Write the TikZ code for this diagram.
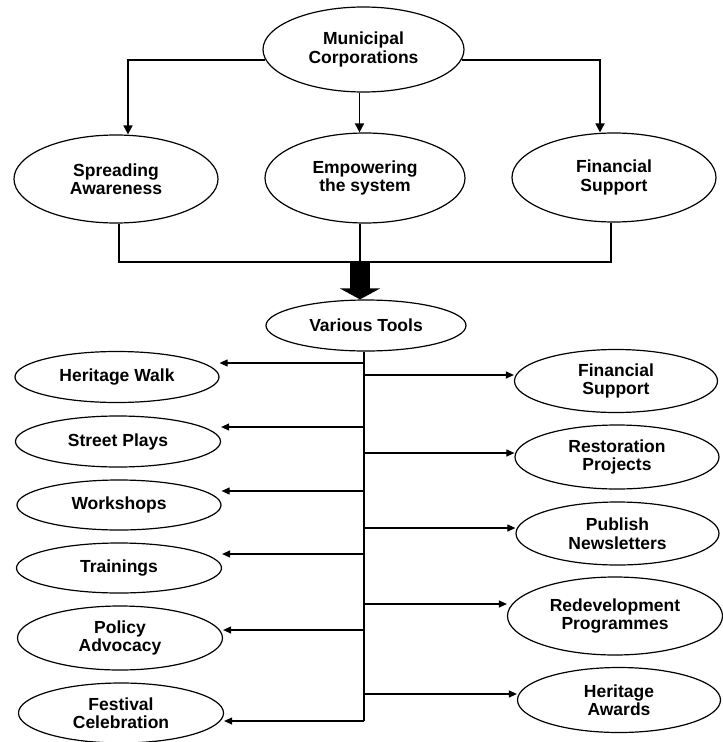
\documentclass[tikz,border=0pt]{standalone}
\usepackage{fontspec}
\setmainfont{Liberation Sans}
\usetikzlibrary{shapes.geometric,arrows.meta,calc}
\begin{document}
\begin{tikzpicture}[x=1bp,y=-1bp,
  oval/.style={draw, ellipse, line width=1.2bp, inner sep=0pt, align=center,
    font=\bfseries\fontsize{17.5bp}{18.5bp}\selectfont},
  topline/.style={line width=1.7bp},
  toparr/.style={line width=1.7bp, -{Triangle[length=9bp,width=9bp]}},
  lowarr/.style={line width=1.1bp, -{Triangle[length=8bp,width=7bp]}},
  trunk/.style={line width=1.4bp}
]
\useasboundingbox (0,0) rectangle (723,742);

% top level
\node[oval, minimum width=201bp, minimum height=85bp] (mc) at (363.5,49.5) {Municipal\\Corporations};
\node[oval, minimum width=204bp, minimum height=88bp] (sa) at (116,179) {Spreading\\Awareness};
\node[oval, minimum width=200bp, minimum height=90bp] (es) at (365,178) {Empowering\\the system};
\node[oval, minimum width=204bp, minimum height=89bp] (fs1) at (614,177.5) {Financial\\Support};

\draw[toparr] (mc.186) -| ([xshift=12bp]sa.north);
\draw[toparr] (mc.354) -| ([xshift=-14bp]fs1.north);
\draw[toparr] ([xshift=-4bp]mc.south) -- ([xshift=-4bp]mc.south |- es.north);

\coordinate (jn) at (360,262);
\draw[topline] ([xshift=3bp]sa.south) |- (jn) -| ([xshift=-3bp]fs1.south);
\draw[topline] (es.south -| jn) -- (jn);

% various tools
\node[oval, minimum width=200bp, minimum height=51bp] (vt) at (366,325.5) {Various Tools};
\draw[line width=20bp, -{Triangle[width=40bp,length=11bp]}] (jn) -- (jn |- vt.north);

% left column
\node[oval, minimum width=204bp, minimum height=51bp] (hw) at (117,377) {Heritage Walk};
\node[oval, minimum width=205bp, minimum height=51bp] (sp) at (118,441.5) {Street Plays};
\node[oval, minimum width=204bp, minimum height=50bp] (ws) at (119,505) {Workshops};
\node[oval, minimum width=205bp, minimum height=50bp] (tr) at (119,568) {Trainings};
\node[oval, minimum width=205bp, minimum height=64bp] (pa) at (120,638) {Policy\\Advocacy};
\node[oval, minimum width=205bp, minimum height=60bp] (fc) at (121,713) {Festival\\Celebration};

% right column
\node[oval, minimum width=203bp, minimum height=63bp] (fs2) at (616,381) {Financial\\Support};
\node[oval, minimum width=204bp, minimum height=64bp] (rp) at (617,457) {Restoration\\Projects};
\node[oval, minimum width=203bp, minimum height=63bp] (pn) at (617.5,533.5) {Publish\\Newsletters};
\node[oval, minimum width=215bp, minimum height=78bp] (rd) at (615,616) {Redevelopment\\Programmes};
\node[oval, minimum width=203bp, minimum height=65bp] (ha) at (619,700) {Heritage\\Awards};

% trunk
\coordinate (tk) at ([xshift=-2bp]vt.south);
\coordinate (l1) at ([yshift=14bp]hw.east);
\coordinate (l2) at ([yshift=14.5bp]sp.east);
\coordinate (l3) at ([yshift=14bp]ws.east);
\coordinate (l4) at ([yshift=14bp]tr.east);
\coordinate (l5) at ([yshift=8bp]pa.east);
\coordinate (l6) at ([yshift=-8bp]fc.east);
\coordinate (r1) at ([yshift=6bp]fs2.west);
\coordinate (r2) at ([yshift=4bp]rp.west);
\coordinate (r3) at ([yshift=5.5bp]pn.west);
\coordinate (r4) at ([yshift=12bp]rd.west);
\coordinate (r5) at ([yshift=6bp]ha.west);

\draw[trunk] (tk) -- (tk |- l6);
\foreach \c in {l1,l2,l3,l4,l5,l6,r1,r2,r3,r4,r5}
  \draw[lowarr] (tk |- \c) -- (\c);
\end{tikzpicture}
\end{document}
